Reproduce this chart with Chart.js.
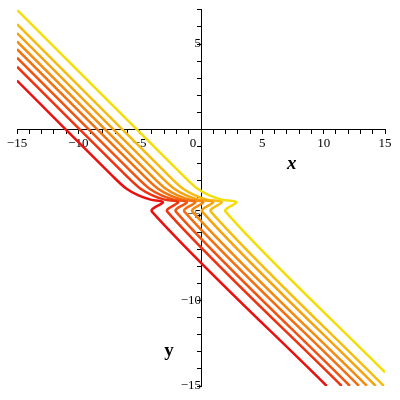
<!DOCTYPE html>
<html>
<head>
<meta charset="utf-8">
<script src="https://cdn.jsdelivr.net/npm/chart.js@4"></script>
<style>
  body { margin: 0; background: #fff; }
  #wrap { width: 400px; height: 400px; }
</style>
</head>
<body>
<div id="wrap"><canvas id="chart" width="400" height="400"></canvas></div>
<script>
// solution curves, red -> yellow as [x, y]
const curve1 = [[-15, 2.86], [-7.1, -2.8], [-6.1, -3.45], [-5.1, -3.85], [-4.1, -4.1], [-3.1, -4.25], [-4.0, -4.8], [10.25, -15]];
const curve2 = [[-15, 3.67], [-5.96, -2.8], [-4.96, -3.45], [-3.96, -3.85], [-2.96, -4.1], [-1.85, -4.25], [-2.75, -4.8], [11.47, -15]];
const curve3 = [[-15, 4.2], [-5.22, -2.8], [-4.22, -3.45], [-3.22, -3.85], [-2.22, -4.1], [-1.15, -4.25], [-2.05, -4.8], [12.14, -15]];
const curve4 = [[-15, 4.7], [-4.53, -2.8], [-3.53, -3.45], [-2.53, -3.85], [-1.53, -4.1], [-0.45, -4.25], [-1.35, -4.8], [12.88, -15]];
const curve5 = [[-15, 5.15], [-3.9, -2.8], [-2.9, -3.45], [-1.9, -3.85], [-0.9, -4.1], [0.2, -4.25], [-0.7, -4.8], [13.53, -15]];
const curve6 = [[-15, 5.64], [-3.21, -2.8], [-2.21, -3.45], [-1.21, -3.85], [-0.21, -4.1], [1.0, -4.25], [0.1, -4.8], [14.24, -15]];
const curve7 = [[-15, 6.16], [-2.49, -2.8], [-1.49, -3.45], [-0.49, -3.85], [0.51, -4.1], [1.7, -4.25], [0.8, -4.8], [14.9, -15]];
const curve8 = [[-15, 7.0], [-1.31, -2.8], [-0.31, -3.45], [0.69, -3.85], [1.69, -4.1], [2.9, -4.25], [2.0, -4.8], [15, -14.2]];

const curves = [curve1, curve2, curve3, curve4, curve5, curve6, curve7, curve8];
const colors = ['rgb(232,16,16)', 'rgb(236,52,16)', 'rgb(240,84,16)', 'rgb(242,112,16)',
                'rgb(244,138,16)', 'rgb(246,162,16)', 'rgb(246,188,16)', 'rgb(244,222,10)'];

const xRange = [-15, 15];
const yRange = [-15, 7];
const majorStep = 5;

// axis names and where they sit (data units)
const axisNames = [
  { text: 'x', x: 7.4, y: -2.0, font: 'italic bold 19px "Liberation Serif"' },
  { text: 'y', x: -2.6, y: -12.95, font: 'bold 19px "Liberation Serif"' }
];

const axisNamePlugin = {
  id: 'axisNames',
  afterDraw(chart) {
    const ctx = chart.ctx;
    ctx.save();
    ctx.fillStyle = '#000';
    ctx.textAlign = 'center';
    ctx.textBaseline = 'middle';
    axisNames.forEach(n => {
      ctx.font = n.font;
      ctx.fillText(n.text, chart.scales.x.getPixelForValue(n.x), chart.scales.y.getPixelForValue(n.y));
    });
    ctx.restore();
  }
};

function fmt(v) {
  return v < 0 ? '\u2212' + Math.abs(v) : String(v);
}

const ctx = document.getElementById('chart').getContext('2d');
new Chart(ctx, {
  type: 'scatter',
  data: {
    datasets: curves.map((c, i) => ({
      data: c.map(p => ({ x: p[0], y: p[1] })),
      showLine: true,
      borderColor: colors[i],
      borderWidth: 2.5,
      pointRadius: 0,
      tension: 0.3,
      fill: false
    }))
  },
  options: {
    responsive: false,
    animation: false,
    layout: { padding: { left: 17, right: 15, top: 8, bottom: 14 } },
    plugins: { legend: { display: false }, tooltip: { enabled: false } },
    scales: {
      x: {
        type: 'linear',
        position: { y: 0 },
        z: 1,
        min: xRange[0], max: xRange[1],
        border: { color: '#000', width: 1 },
        grid: { drawOnChartArea: false, tickLength: 4, tickColor: '#000' },
        ticks: {
          stepSize: 1,
          autoSkip: false,
          maxRotation: 0,
          color: '#000',
          padding: 2,
          font: { family: '"Liberation Serif"', size: 13 },
          callback: v => v % majorStep !== 0 ? '' : (v === 0 ? '0\u2003 ' : fmt(v))
        }
      },
      y: {
        type: 'linear',
        position: { x: 0 },
        z: 1,
        min: yRange[0], max: yRange[1],
        border: { color: '#000', width: 1 },
        grid: { drawOnChartArea: false, tickLength: 4, tickColor: '#000' },
        ticks: {
          stepSize: 1,
          autoSkip: false,
          includeBounds: false,
          color: '#000',
          padding: 2,
          font: { family: '"Liberation Serif"', size: 13 },
          callback: v => (v % majorStep !== 0 || v === 0) ? '' : fmt(v)
        }
      }
    }
  },
  plugins: [axisNamePlugin]
});
</script>
</body>
</html>
